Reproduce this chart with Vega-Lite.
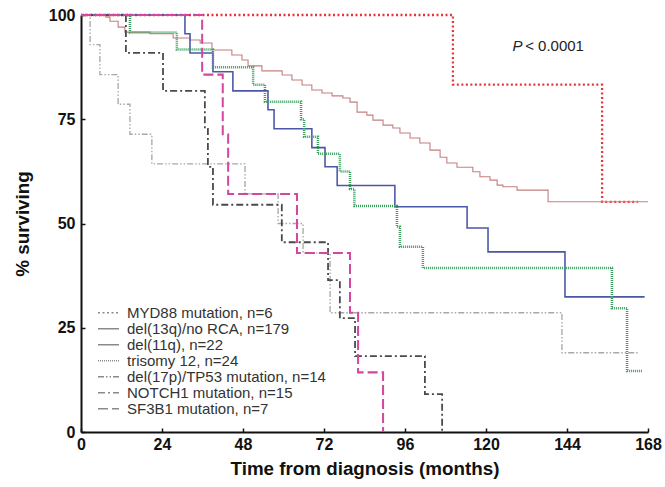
{
  "$schema": "https://vega.github.io/schema/vega-lite/v6.json",
  "width": 567,
  "height": 417,
  "autosize": "none",
  "padding": {"left": 81, "top": 15, "right": 17, "bottom": 55},
  "background": "white",
  "config": {"view": {"stroke": null}, "font": "Liberation Sans"},
  "layer": [
    {
      "data": {"values": [
        {"g": "MYD88 mutation, n=6", "t": 0, "s": 100},
        {"g": "MYD88 mutation, n=6", "t": 110.2, "s": 83.3},
        {"g": "MYD88 mutation, n=6", "t": 154.4, "s": 55.2},
        {"g": "MYD88 mutation, n=6", "t": 165, "s": 55.2},

        {"g": "del(13q)/no RCA, n=179", "t": 0, "s": 100},
        {"g": "del(13q)/no RCA, n=179", "t": 7.4, "s": 99.5},
        {"g": "del(13q)/no RCA, n=179", "t": 8.6, "s": 98.5},
        {"g": "del(13q)/no RCA, n=179", "t": 11, "s": 97.1},
        {"g": "del(13q)/no RCA, n=179", "t": 13, "s": 95.9},
        {"g": "del(13q)/no RCA, n=179", "t": 20.4, "s": 95.5},
        {"g": "del(13q)/no RCA, n=179", "t": 27.3, "s": 94.5},
        {"g": "del(13q)/no RCA, n=179", "t": 32.3, "s": 94},
        {"g": "del(13q)/no RCA, n=179", "t": 35.3, "s": 93.3},
        {"g": "del(13q)/no RCA, n=179", "t": 38.8, "s": 91.6},
        {"g": "del(13q)/no RCA, n=179", "t": 44.7, "s": 90.4},
        {"g": "del(13q)/no RCA, n=179", "t": 47.7, "s": 89.2},
        {"g": "del(13q)/no RCA, n=179", "t": 49.5, "s": 87.8},
        {"g": "del(13q)/no RCA, n=179", "t": 53.6, "s": 86.6},
        {"g": "del(13q)/no RCA, n=179", "t": 59.6, "s": 85.6},
        {"g": "del(13q)/no RCA, n=179", "t": 62.5, "s": 84.4},
        {"g": "del(13q)/no RCA, n=179", "t": 65.5, "s": 83.2},
        {"g": "del(13q)/no RCA, n=179", "t": 68.4, "s": 82},
        {"g": "del(13q)/no RCA, n=179", "t": 71.4, "s": 81.3},
        {"g": "del(13q)/no RCA, n=179", "t": 74.4, "s": 80.6},
        {"g": "del(13q)/no RCA, n=179", "t": 77.6, "s": 80.1},
        {"g": "del(13q)/no RCA, n=179", "t": 79.7, "s": 79.1},
        {"g": "del(13q)/no RCA, n=179", "t": 81.8, "s": 76.7},
        {"g": "del(13q)/no RCA, n=179", "t": 84.7, "s": 76},
        {"g": "del(13q)/no RCA, n=179", "t": 86.5, "s": 74.8},
        {"g": "del(13q)/no RCA, n=179", "t": 89.5, "s": 73.6},
        {"g": "del(13q)/no RCA, n=179", "t": 92.4, "s": 72.9},
        {"g": "del(13q)/no RCA, n=179", "t": 94.5, "s": 71.7},
        {"g": "del(13q)/no RCA, n=179", "t": 97.5, "s": 70.5},
        {"g": "del(13q)/no RCA, n=179", "t": 100.4, "s": 69.3},
        {"g": "del(13q)/no RCA, n=179", "t": 103.4, "s": 67.6},
        {"g": "del(13q)/no RCA, n=179", "t": 106.4, "s": 65.9},
        {"g": "del(13q)/no RCA, n=179", "t": 108.4, "s": 64.5},
        {"g": "del(13q)/no RCA, n=179", "t": 111.4, "s": 63.5},
        {"g": "del(13q)/no RCA, n=179", "t": 116.1, "s": 62.4},
        {"g": "del(13q)/no RCA, n=179", "t": 118.2, "s": 61.2},
        {"g": "del(13q)/no RCA, n=179", "t": 121.2, "s": 60.4},
        {"g": "del(13q)/no RCA, n=179", "t": 123.3, "s": 59.2},
        {"g": "del(13q)/no RCA, n=179", "t": 125, "s": 58.8},
        {"g": "del(13q)/no RCA, n=179", "t": 129.2, "s": 58},
        {"g": "del(13q)/no RCA, n=179", "t": 138.4, "s": 55.2},
        {"g": "del(13q)/no RCA, n=179", "t": 168, "s": 55.2},

        {"g": "del(11q), n=22", "t": 0, "s": 100},
        {"g": "del(11q), n=22", "t": 30.8, "s": 95.5},
        {"g": "del(11q), n=22", "t": 32.3, "s": 90.9},
        {"g": "del(11q), n=22", "t": 39.1, "s": 86.4},
        {"g": "del(11q), n=22", "t": 45, "s": 81.8},
        {"g": "del(11q), n=22", "t": 55.4, "s": 77.3},
        {"g": "del(11q), n=22", "t": 57.2, "s": 72.7},
        {"g": "del(11q), n=22", "t": 68.4, "s": 68.2},
        {"g": "del(11q), n=22", "t": 72.3, "s": 63.6},
        {"g": "del(11q), n=22", "t": 75.9, "s": 59.1},
        {"g": "del(11q), n=22", "t": 93, "s": 54},
        {"g": "del(11q), n=22", "t": 114.4, "s": 48.9},
        {"g": "del(11q), n=22", "t": 120.6, "s": 43.2},
        {"g": "del(11q), n=22", "t": 143.4, "s": 32.4},
        {"g": "del(11q), n=22", "t": 167, "s": 32.4},

        {"g": "trisomy 12, n=24", "t": 0, "s": 100},
        {"g": "trisomy 12, n=24", "t": 14.5, "s": 95.8},
        {"g": "trisomy 12, n=24", "t": 28.4, "s": 91.7},
        {"g": "trisomy 12, n=24", "t": 39.1, "s": 87.5},
        {"g": "trisomy 12, n=24", "t": 51, "s": 83.3},
        {"g": "trisomy 12, n=24", "t": 54.5, "s": 79.2},
        {"g": "trisomy 12, n=24", "t": 65.2, "s": 75},
        {"g": "trisomy 12, n=24", "t": 66.1, "s": 70.8},
        {"g": "trisomy 12, n=24", "t": 70.2, "s": 66.7},
        {"g": "trisomy 12, n=24", "t": 76.7, "s": 62.5},
        {"g": "trisomy 12, n=24", "t": 79.7, "s": 58.3},
        {"g": "trisomy 12, n=24", "t": 81, "s": 54.2},
        {"g": "trisomy 12, n=24", "t": 93.6, "s": 49.2},
        {"g": "trisomy 12, n=24", "t": 94.5, "s": 44.4},
        {"g": "trisomy 12, n=24", "t": 101.3, "s": 39.3},
        {"g": "trisomy 12, n=24", "t": 157.3, "s": 29.7},
        {"g": "trisomy 12, n=24", "t": 161.8, "s": 14.6},
        {"g": "trisomy 12, n=24", "t": 166.2, "s": 14.6},

        {"g": "del(17p)/TP53 mutation, n=14", "t": 0, "s": 100},
        {"g": "del(17p)/TP53 mutation, n=14", "t": 2.7, "s": 92.9},
        {"g": "del(17p)/TP53 mutation, n=14", "t": 5.6, "s": 85.7},
        {"g": "del(17p)/TP53 mutation, n=14", "t": 11, "s": 78.6},
        {"g": "del(17p)/TP53 mutation, n=14", "t": 14.5, "s": 71.4},
        {"g": "del(17p)/TP53 mutation, n=14", "t": 21, "s": 64.3},
        {"g": "del(17p)/TP53 mutation, n=14", "t": 48.6, "s": 57.1},
        {"g": "del(17p)/TP53 mutation, n=14", "t": 58.4, "s": 50},
        {"g": "del(17p)/TP53 mutation, n=14", "t": 65.8, "s": 42.9},
        {"g": "del(17p)/TP53 mutation, n=14", "t": 73.8, "s": 28.6},
        {"g": "del(17p)/TP53 mutation, n=14", "t": 142.5, "s": 19},
        {"g": "del(17p)/TP53 mutation, n=14", "t": 165, "s": 19},

        {"g": "NOTCH1 mutation, n=15", "t": 0, "s": 100},
        {"g": "NOTCH1 mutation, n=15", "t": 13.3, "s": 90.9},
        {"g": "NOTCH1 mutation, n=15", "t": 24.3, "s": 81.8},
        {"g": "NOTCH1 mutation, n=15", "t": 36.7, "s": 72.7},
        {"g": "NOTCH1 mutation, n=15", "t": 37.6, "s": 63.6},
        {"g": "NOTCH1 mutation, n=15", "t": 39.1, "s": 54.5},
        {"g": "NOTCH1 mutation, n=15", "t": 59.5, "s": 45.5},
        {"g": "NOTCH1 mutation, n=15", "t": 73.2, "s": 36.4},
        {"g": "NOTCH1 mutation, n=15", "t": 76.7, "s": 27.3},
        {"g": "NOTCH1 mutation, n=15", "t": 81.2, "s": 18.2},
        {"g": "NOTCH1 mutation, n=15", "t": 101.9, "s": 9.1},
        {"g": "NOTCH1 mutation, n=15", "t": 107, "s": 0},

        {"g": "SF3B1 mutation, n=7", "t": 0, "s": 100},
        {"g": "SF3B1 mutation, n=7", "t": 35.9, "s": 85.7},
        {"g": "SF3B1 mutation, n=7", "t": 42, "s": 71.4},
        {"g": "SF3B1 mutation, n=7", "t": 43.6, "s": 57.1},
        {"g": "SF3B1 mutation, n=7", "t": 64, "s": 42.9},
        {"g": "SF3B1 mutation, n=7", "t": 79.7, "s": 28.6},
        {"g": "SF3B1 mutation, n=7", "t": 82.1, "s": 14.3},
        {"g": "SF3B1 mutation, n=7", "t": 89.5, "s": 0}
      ]},
      "mark": {"type": "line", "interpolate": "step-after"},
      "encoding": {
        "x": {
          "field": "t", "type": "quantitative",
          "scale": {"domain": [0, 168], "nice": false, "zero": false},
          "axis": {
            "values": [0, 24, 48, 72, 96, 120, 144, 168],
            "title": "Time from diagnosis (months)",
            "titleFontSize": 18.8, "titleFontWeight": "bold", "titleColor": "#111", "titlePadding": 7,
            "labelFontSize": 16, "labelFontWeight": "bold", "labelColor": "#111",
            "labelFlush": false, "labelPadding": 8,
            "domainColor": "#111", "domainWidth": 2,
            "tickColor": "#111", "tickSize": -4, "tickWidth": 1.5,
            "grid": false
          }
        },
        "y": {
          "field": "s", "type": "quantitative",
          "scale": {"domain": [0, 100], "nice": false},
          "axis": {
            "values": [0, 25, 50, 75, 100],
            "title": "% surviving",
            "titleFontSize": 18.8, "titleFontWeight": "bold", "titleColor": "#111", "titlePadding": 16,
            "labelFontSize": 16, "labelFontWeight": "bold", "labelColor": "#111",
            "labelFlush": false, "labelPadding": 10,
            "domainColor": "#111", "domainWidth": 2,
            "tickColor": "#111", "tickSize": -4, "tickWidth": 1.5,
            "grid": false
          }
        },
        "color": {
          "field": "g", "type": "nominal",
          "sort": ["MYD88 mutation, n=6", "del(13q)/no RCA, n=179", "del(11q), n=22", "trisomy 12, n=24", "del(17p)/TP53 mutation, n=14", "NOTCH1 mutation, n=15", "SF3B1 mutation, n=7"],
          "scale": {
            "range": ["#e8343e", "#c47e7e", "#4a56a8", "#3a9e5c", "#a8a8a8", "#4a4a4a", "#d4479e"]
          },
          "legend": null
        },
        "strokeWidth": {
          "field": "g", "type": "nominal",
          "sort": ["del(13q)/no RCA, n=179", "del(17p)/TP53 mutation, n=14", "del(11q), n=22", "NOTCH1 mutation, n=15", "SF3B1 mutation, n=7", "MYD88 mutation, n=6", "trisomy 12, n=24"],
          "scale": {
            "type": "point",
            "range": [1.1, 2.5]
          },
          "legend": null
        },
        "strokeDash": {
          "field": "g", "type": "nominal",
          "scale": {
            "domain": ["MYD88 mutation, n=6", "del(13q)/no RCA, n=179", "del(11q), n=22", "trisomy 12, n=24", "del(17p)/TP53 mutation, n=14", "NOTCH1 mutation, n=15", "SF3B1 mutation, n=7"],
            "range": [[2, 2.5], [1, 0], [1, 0], [1, 1], [6, 2, 1.5, 2, 1.5, 2], [7, 3, 2, 3], [10, 4]]
          },
          "legend": {
            "title": null,
            "orient": "none",
            "legendX": 16,
            "legendY": 290,
            "symbolType": "stroke",
            "symbolSize": 440,
            "symbolStrokeColor": "#8a8a8a",
            "symbolStrokeWidth": 1.5,
            "clipHeight": 15.5,
            "rowPadding": 0,
            "labelFontSize": 15,
            "labelLimit": 400,
            "labelColor": "#333",
            "labelOffset": 7
          }
        }
      }
    },
    {
      "data": {"values": [{}]},
      "mark": {"type": "text", "align": "right", "baseline": "alphabetic", "fontSize": 15, "fontStyle": "italic", "color": "#222"},
      "encoding": {
        "x": {"datum": 130.8, "type": "quantitative"},
        "y": {"datum": 91.4, "type": "quantitative"},
        "text": {"value": "P"}
      }
    },
    {
      "data": {"values": [{}]},
      "mark": {"type": "text", "align": "left", "baseline": "alphabetic", "fontSize": 15, "color": "#222"},
      "encoding": {
        "x": {"datum": 131.6, "type": "quantitative"},
        "y": {"datum": 91.4, "type": "quantitative"},
        "text": {"value": "< 0.0001"}
      }
    }
  ]
}
